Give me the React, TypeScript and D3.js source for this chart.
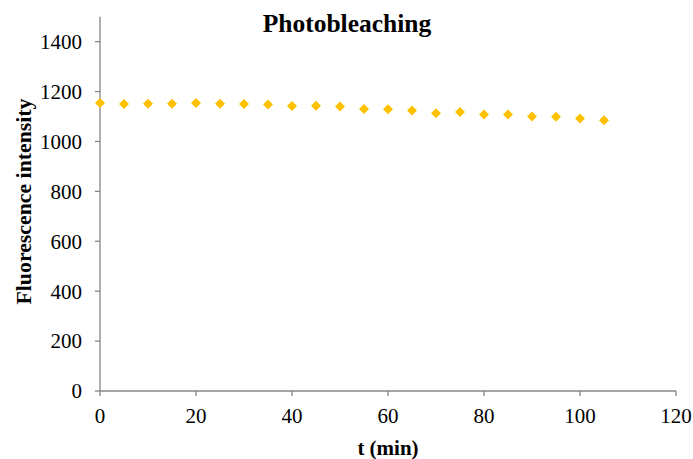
import React from "react";
import * as d3 from "d3";

const times = [0, 5, 10, 15, 20, 25, 30, 35, 40, 45, 50, 55, 60, 65, 70, 75, 80, 85, 90, 95, 100, 105];
const intensity = [1154, 1150, 1151, 1151, 1154, 1151, 1150, 1148, 1142, 1143, 1140, 1130, 1129, 1124, 1113, 1118, 1108, 1108, 1100, 1099, 1092, 1085];
const xTicks = [0, 20, 40, 60, 80, 100, 120];
const yTicks = [0, 200, 400, 600, 800, 1000, 1200, 1400];
const title = "Photobleaching";
const xLabel = "t (min)";
const yLabel = "Fluorescence intensity";

export default function App() {
  const W = 693, H = 459;
  const x = d3.scaleLinear().domain([0, 120]).range([100, 676]);
  const y = d3.scaleLinear().domain([0, 1500]).range([391, 16.7]);
  const axisColor = "#868686";
  const font = "'Liberation Serif', 'Times New Roman', serif";
  const diamond = d3.symbol().type(d3.symbolDiamond2).size(64)() as string;
  const data = times.map((t, i) => ({ t, v: intensity[i] }));
  return (
    <svg width={W} height={H} style={{ position: "absolute", left: 0, top: 0, background: "#fff" }} fontFamily={font}>
      <rect width={W} height={H} fill="#fff" />
      <text x={347} y={32} textAnchor="middle" fontSize={25.5} fontWeight="bold">{title}</text>
      {/* y axis */}
      <line x1={x(0)} x2={x(0)} y1={y(1500)} y2={y(0)} stroke={axisColor} strokeWidth={1.3} />
      {yTicks.map((t) => (
        <g key={"y" + t}>
          <line x1={x(0) - 5} x2={x(0)} y1={y(t)} y2={y(t)} stroke={axisColor} strokeWidth={1.3} />
          <text x={x(0) - 18} y={y(t)} dy="0.35em" textAnchor="end" fontSize={21}>{t}</text>
        </g>
      ))}
      {/* x axis */}
      <line x1={x(0)} x2={x(120)} y1={y(0)} y2={y(0)} stroke={axisColor} strokeWidth={1.3} />
      {xTicks.map((t) => (
        <g key={"x" + t}>
          <line x1={x(t)} x2={x(t)} y1={y(0)} y2={y(0) + 5} stroke={axisColor} strokeWidth={1.3} />
          <text x={x(t)} y={423} textAnchor="middle" fontSize={21}>{t}</text>
        </g>
      ))}
      <text x={388} y={455} textAnchor="middle" fontSize={21} fontWeight="bold">{xLabel}</text>
      <text transform={`translate(31,201.5) rotate(-90)`} textAnchor="middle" fontSize={21.8} fontWeight="bold">{yLabel}</text>
      {data.map((d) => (
        <path key={d.t} d={diamond} transform={`translate(${x(d.t)},${y(d.v)})`} fill="#FFC000" />
      ))}
    </svg>
  );
}
